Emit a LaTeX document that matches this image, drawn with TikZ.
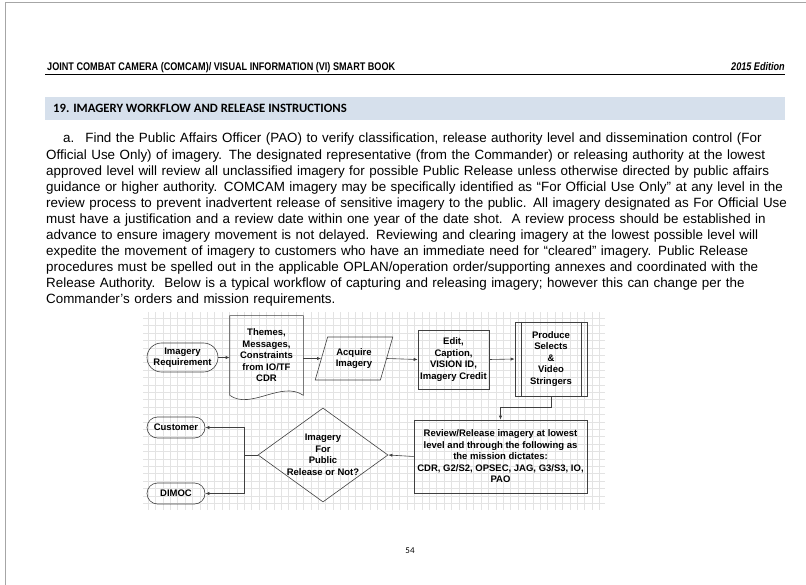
\documentclass[tikz,border=0pt]{standalone}
\usepackage{fontspec}
\setmainfont{Liberation Sans}
\newfontfamily\narrowsans[FakeStretch=0.82]{Liberation Sans}
\newfontfamily\calibri{Carlito}
\usetikzlibrary{arrows.meta, shapes.geometric}
\definecolor{HeadingBar}{RGB}{214,224,236}
\colorlet{GridLine}{gray!22}
\colorlet{ShapeLine}{black!75}
\tikzset{
    box/.style={draw=ShapeLine, line width=0.6pt, align=center, inner sep=1pt,
        font=\fontsize{9.5}{11.5}\selectfont\bfseries},
    terminal/.style={box, rounded corners=10.5pt, minimum width=58pt, minimum height=21pt},
    io/.style={box, trapezium, trapezium left angle=68, trapezium right angle=112,
        trapezium stretches=true, minimum width=78pt, minimum height=43pt},
    decision/.style={box, diamond, inner sep=0pt, minimum width=130pt, minimum height=94pt},
    decisiontext/.style={align=center, inner sep=0pt, font=\fontsize{9.5}{11.5}\selectfont\bfseries},
    link/.style={draw=ShapeLine, line width=0.6pt},
    flow/.style={link, -{Latex[length=4pt, width=3.2pt]}}
}

\begin{document}
\begin{tikzpicture}[x=1pt, y=-1pt]
\useasboundingbox (0,0) rectangle (806,585);

% Borde de la página.
\draw[gray!70, line width=0.8pt] (5,585) -- (5,2.5) -- (806,2.5);

% Encabezado.
\node[anchor=base west, inner sep=0pt, font=\narrowsans\fontsize{11.1}{13}\selectfont\bfseries] (title) at (47,71)
    {JOINT COMBAT CAMERA (COMCAM)/ VISUAL INFORMATION (VI) SMART BOOK};
\node[anchor=base east, inner sep=0pt, font=\narrowsans\fontsize{11.1}{13}\selectfont\bfseries\itshape] (edition) at (785,71)
    {2015 Edition};
\draw[line width=0.5pt] (45,74.5) -- (785,74.5);

% Barra del título de la sección.
\node[fill=HeadingBar, minimum width=740pt, minimum height=23pt, inner sep=0pt, anchor=north west] (bar) at (45,97) {};
\node[anchor=west, inner sep=0pt, font=\calibri\bfseries\fontsize{12.7}{14}\selectfont] (section) at ([xshift=8pt]bar.west)
    {19. IMAGERY WORKFLOW AND RELEASE INSTRUCTIONS};

% Texto del párrafo.
\node[anchor=north west, inner sep=0pt, text width=745pt, align=left, font=\fontsize{13.4}{16.1}\selectfont] (para) at (46,133)
    {\hspace*{17pt}a.\hspace{11pt}Find the Public Affairs Officer (PAO) to verify classification, release authority level and dissemination control (For\\
    Official Use Only) of imagery. The designated representative (from the Commander) or releasing authority at the lowest\\
    approved level will review all unclassified imagery for possible Public Release unless otherwise directed by public affairs\\
    guidance or higher authority. COMCAM imagery may be specifically identified as “For Official Use Only” at any level in the\\
    review process to prevent inadvertent release of sensitive imagery to the public. All imagery designated as For Official Use\\
    must have a justification and a review date within one year of the date shot.\ \ A review process should be established in\\
    advance to ensure imagery movement is not delayed. Reviewing and clearing imagery at the lowest possible level will\\
    expedite the movement of imagery to customers who have an immediate need for “cleared” imagery. Public Release\\
    procedures must be spelled out in the applicable OPLAN/operation order/supporting annexes and coordinated with the\\
    Release Authority.\ \ Below is a typical workflow of capturing and releasing imagery; however this can change per the\\
    Commander’s orders and mission requirements.};

% Cuadrícula de fondo del diagrama.
\draw[GridLine, line width=0.3pt, step=7.4pt] (143pt,-312pt) grid (605pt,-510pt);

% Fila superior.
\node[terminal, minimum width=71pt, minimum height=29pt, rounded corners=14.5pt] (req) at (182.5,357.5) {Imagery\\Requirement};
\node[box, draw=none, minimum width=73pt, minimum height=79pt] (doc) at (266.5,355.5)
    {Themes,\\Messages,\\Constraints\\from IO/TF\\CDR};
\draw[link] (doc.south west) -- (doc.north west) -- (doc.north east) -- (doc.south east)
    .. controls +(-22,-15) and +(21,15) .. (doc.south west);
\node[io] (acq) at (354,358.5) {Acquire\\Imagery};
\node[box, minimum width=71pt, minimum height=59pt] (edit) at (453.5,359.5)
    {Edit,\\Caption,\\VISION ID,\\Imagery Credit};
\node[box, minimum width=72pt, minimum height=74pt] (prod) at (551,359)
    {Produce\\Selects\\\&\\Video\\Stringers};
\draw[link] ([xshift=7pt]prod.north west) -- ([xshift=7pt]prod.south west);
\draw[link] ([xshift=-6pt]prod.north east) -- ([xshift=-6pt]prod.south east);

% Fila inferior.
\node[box, minimum width=173pt, minimum height=73pt] (rev) at (500.5,456.5)
    {Review/Release imagery at lowest\\level and through the following as\\the mission dictates:\\CDR, G2/S2, OPSEC, JAG, G3/S3, IO,\\PAO};
\node[decision, label={[decisiontext]center:{Imagery\\For\\Public\\Release or Not?}}] (dec) at (323,455) {};
\node[terminal] (cust) at (176,427.5) {Customer};
\node[terminal] (dimoc) at (176,493.5) {DIMOC};

% Conectores.
\draw[flow] (req.east) -- (req.east -| doc.west);
\draw[flow] (doc.east |- acq.west) -- (acq.west);
\draw[flow] (acq.east) -- (edit.west);
\draw[flow] (edit.east) -- (prod.west);
\draw[flow] (prod.south) -- ++(0,11) -| (rev.north);
\draw[flow] (rev.west) -- (dec.east);
\coordinate (split) at (244,455);
\draw[link] (dec.west) -- (split);
\draw[flow] (split) |- (cust.east);
\draw[flow] (split) |- (dimoc.east);

% Número de página.
\node[font=\calibri\fontsize{9}{11}\selectfont] (page) at (410,551) {54};

\end{tikzpicture}
\end{document}
